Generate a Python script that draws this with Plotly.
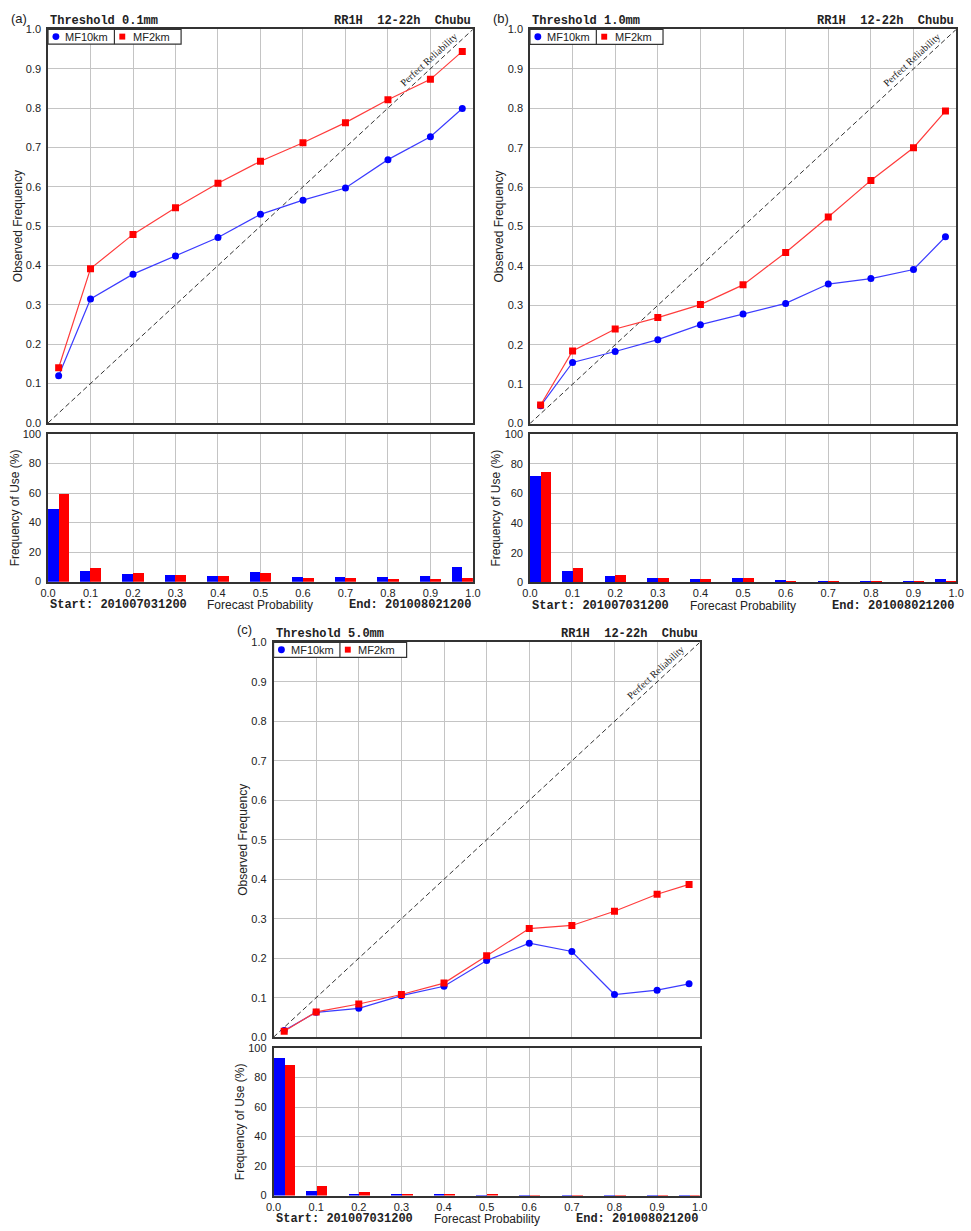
"""
Reliability diagrams (MF10km vs MF2km) for three rain thresholds,
each with a frequency-of-use histogram underneath.
"""

import plotly.graph_objects as go

# ---- data -----------------------------------------------------------------
# forecast probability bins (positions as plotted)
prob = [0.025, 0.1, 0.2, 0.3, 0.4, 0.5, 0.6, 0.7, 0.8, 0.9, 0.975]
perfect = [0.0, 1.0]

thresholds = ["0.1mm", "1.0mm", "5.0mm"]
panel_labels = ["(a)", "(b)", "(c)"]
series_names = ["MF10km", "MF2km"]
x_ticks = [0.0, 0.1, 0.2, 0.3, 0.4, 0.5, 0.6, 0.7, 0.8, 0.9, 1.0]
rel_ticks = [0.0, 0.1, 0.2, 0.3, 0.4, 0.5, 0.6, 0.7, 0.8, 0.9, 1.0]
use_ticks = [0, 20, 40, 60, 80, 100]

# observed frequency
obs_mf10_a = [0.120, 0.315, 0.378, 0.424, 0.471, 0.530, 0.566, 0.597, 0.669, 0.727, 0.799]
obs_mf2_a = [0.140, 0.392, 0.479, 0.547, 0.609, 0.665, 0.712, 0.763, 0.821, 0.873, 0.944]
obs_mf10_b = [0.045, 0.155, 0.183, 0.213, 0.251, 0.278, 0.305, 0.354, 0.368, 0.391, 0.474]
obs_mf2_b = [0.047, 0.184, 0.240, 0.269, 0.302, 0.352, 0.434, 0.524, 0.617, 0.700, 0.793]
obs_mf10_c = [0.017, 0.063, 0.073, 0.105, 0.129, 0.194, 0.238, 0.217, 0.108, 0.119, 0.135]
obs_mf2_c = [0.015, 0.064, 0.084, 0.108, 0.137, 0.206, 0.275, 0.283, 0.319, 0.362, 0.387]

# frequency of use (%)
use_mf10_a = [49.5, 7.3, 5.3, 4.5, 4.0, 6.3, 2.8, 2.8, 3.2, 3.7, 9.8]
use_mf2_a = [59.3, 9.0, 6.0, 4.5, 3.7, 5.6, 2.3, 2.2, 2.0, 2.0, 2.7]
use_mf10_b = [71.5, 7.5, 4.5, 3.2, 2.3, 3.2, 1.2, 1.1, 1.0, 0.9, 2.5]
use_mf2_b = [74.5, 9.3, 5.1, 3.1, 2.2, 2.6, 0.8, 0.6, 0.4, 0.4, 0.4]
use_mf10_c = [93.5, 3.0, 1.3, 0.6, 0.4, 0.3, 0.2, 0.15, 0.1, 0.1, 0.1]
use_mf2_c = [88.5, 6.5, 2.4, 1.2, 0.6, 0.5, 0.3, 0.2, 0.2, 0.15, 0.1]

obs = [(obs_mf10_a, obs_mf2_a), (obs_mf10_b, obs_mf2_b), (obs_mf10_c, obs_mf2_c)]
use = [(use_mf10_a, use_mf2_a), (use_mf10_b, use_mf2_b), (use_mf10_c, use_mf2_c)]

# ---- layout constants -----------------------------------------------------
W, H = 971, 1231
NBSP = "\u00a0"
SANS = "Liberation Sans, Arial, sans-serif"
MONO = "Liberation Mono, Courier New, monospace"
SERIF = "Liberation Serif, Times New Roman, serif"
BLUE = "#0000ff"
RED = "#ff0000"
FRAME = "#333333"
GRID = "#c4c4c4"
TEXT = "#222222"

# panel boxes in pixels: left, right, rel top, rel bottom, hist top, hist bottom
panels = [
    (40.7, 472.7, 23.6, 421.0, 432.3, 581.3),
    (530.7, 964.0, 23.7, 421.7, 432.3, 582.0),
    (270.0, 703.3, 642.7, 1041.3, 1052.3, 1201.3),
]
label_pos = [(1, 13), (491, 13), (231, 630)]


def px_x(v):
    return v / W


def px_y(v):
    return 1 - v / H


fig = go.Figure()
annotations = []
shapes = []

for i, (left, right, r_top, r_bot, h_top, h_bot) in enumerate(panels):
    rel_n, hist_n = 2 * i + 1, 2 * i + 2
    rel_x = "x" if rel_n == 1 else f"x{rel_n}"
    rel_y = "y" if rel_n == 1 else f"y{rel_n}"
    hist_x, hist_y = f"x{hist_n}", f"y{hist_n}"

    # perfect reliability diagonal
    fig.add_trace(go.Scatter(
        x=perfect, y=perfect, mode="lines", xaxis=rel_x, yaxis=rel_y,
        line=dict(color="#333333", width=1, dash="5px,3px"),
        showlegend=False, hoverinfo="skip",
    ))
    # reliability curves
    fig.add_trace(go.Scatter(
        x=prob, y=obs[i][0], mode="lines+markers", name=series_names[0],
        xaxis=rel_x, yaxis=rel_y, showlegend=False,
        line=dict(color="rgb(60,60,255)", width=1.2),
        marker=dict(symbol="circle", size=7, color=BLUE),
    ))
    fig.add_trace(go.Scatter(
        x=prob, y=obs[i][1], mode="lines+markers", name=series_names[1],
        xaxis=rel_x, yaxis=rel_y, showlegend=False,
        line=dict(color="rgb(255,60,60)", width=1.2),
        marker=dict(symbol="square", size=7, color=RED),
    ))
    # frequency of use bars (blue left of bin position, red right)
    fig.add_trace(go.Bar(
        x=prob, y=use[i][0], name=series_names[0], xaxis=hist_x, yaxis=hist_y,
        width=0.025, offset=-0.025, marker=dict(color=BLUE, line=dict(width=0)),
        showlegend=False,
    ))
    fig.add_trace(go.Bar(
        x=prob, y=use[i][1], name=series_names[1], xaxis=hist_x, yaxis=hist_y,
        width=0.025, offset=0.0, marker=dict(color=RED, line=dict(width=0)),
        showlegend=False,
    ))

    xdom = [px_x(left), px_x(right)]
    axis_common = dict(
        range=[0, 1], showgrid=True, gridcolor=GRID, gridwidth=1,
        showline=True, mirror=True, linecolor=FRAME, linewidth=1.5,
        zeroline=False, ticks="", ticklen=0,
        tickfont=dict(family=SANS, size=11, color=TEXT),
        domain=xdom, fixedrange=True,
    )
    fig.layout[f"xaxis{'' if rel_n == 1 else rel_n}"] = dict(
        axis_common, anchor=rel_y, tickvals=x_ticks, showticklabels=False,
    )
    fig.layout[f"yaxis{'' if rel_n == 1 else rel_n}"] = dict(
        axis_common, anchor=rel_x, domain=[px_y(r_bot), px_y(r_top)],
        tickvals=rel_ticks, tickformat=".1f", ticklabelstandoff=3,
        title=dict(text="Observed Frequency", standoff=1,
                   font=dict(family=SANS, size=12, color=TEXT)),
    )
    fig.layout[f"xaxis{hist_n}"] = dict(
        axis_common, anchor=hist_y, tickvals=x_ticks, tickformat=".1f",
        ticklabelstandoff=0,
    )
    fig.layout[f"yaxis{hist_n}"] = dict(
        axis_common, anchor=hist_x, domain=[px_y(h_bot), px_y(h_top)],
        range=[0, 100], tickvals=use_ticks, ticklabelstandoff=3,
        title=dict(text="Frequency of Use (%)", standoff=1,
                   font=dict(family=SANS, size=12, color=TEXT)),
    )

    mid = (left + right) / 2
    foot_y = px_y(h_bot + 23.7)
    # panel letter
    annotations.append(dict(
        x=px_x(label_pos[i][0]), y=px_y(label_pos[i][1]), xref="paper", yref="paper",
        xanchor="left", yanchor="middle", showarrow=False, text=panel_labels[i],
        font=dict(family=SANS, size=13, color=TEXT),
    ))
    # header texts
    annotations.append(dict(
        x=px_x(left), y=px_y(r_top - 8.7), xref="paper", yref="paper",
        xanchor="left", yanchor="middle", showarrow=False,
        text=f"<b>Threshold {thresholds[i]}</b>",
        font=dict(family=MONO, size=12, color=TEXT),
    ))
    annotations.append(dict(
        x=px_x(right), y=px_y(r_top - 8.7), xref="paper", yref="paper",
        xanchor="right", yanchor="middle", showarrow=False,
        text=f"<b>RR1H{NBSP * 2}12-22h{NBSP * 2}Chubu</b>",
        font=dict(family=MONO, size=12, color=TEXT),
    ))
    # footer texts
    annotations.append(dict(
        x=px_x(left), y=foot_y, xref="paper", yref="paper",
        xanchor="left", yanchor="middle", showarrow=False,
        text="<b>Start: 201007031200</b>",
        font=dict(family=MONO, size=12, color=TEXT),
    ))
    annotations.append(dict(
        x=px_x(mid), y=foot_y, xref="paper", yref="paper",
        xanchor="center", yanchor="middle", showarrow=False,
        text="Forecast Probability",
        font=dict(family=SANS, size=12, color=TEXT),
    ))
    annotations.append(dict(
        x=px_x(right), y=foot_y, xref="paper", yref="paper",
        xanchor="right", yanchor="middle", showarrow=False,
        text="<b>End: 201008021200</b>",
        font=dict(family=MONO, size=12, color=TEXT),
    ))
    # perfect reliability label along the diagonal
    annotations.append(dict(
        x=0.896, y=0.924, xref=f"{rel_x} domain", yref=f"{rel_y} domain",
        xanchor="center", yanchor="middle", showarrow=False,
        text="Perfect Reliability", textangle=-42.6,
        font=dict(family=SERIF, size=10, color=TEXT),
    ))

    # legend box drawn inside the top-left corner
    pw, ph = right - left, r_bot - r_top
    box_h = 15 / ph
    shapes.append(dict(
        type="rect", xref=f"{rel_x} domain", yref=f"{rel_y} domain",
        x0=0, x1=135.3 / pw, y0=1 - box_h, y1=1,
        fillcolor="white", line=dict(color=FRAME, width=1.2), layer="above",
    ))
    shapes.append(dict(
        type="line", xref=f"{rel_x} domain", yref=f"{rel_y} domain",
        x0=67.5 / pw, x1=67.5 / pw, y0=1 - box_h, y1=1,
        line=dict(color=FRAME, width=1.2), layer="above",
    ))
    cy = 1 - 7.3 / ph
    shapes.append(dict(
        type="circle", xref=f"{rel_x} domain", yref=f"{rel_y} domain",
        x0=4.5 / pw, x1=11.5 / pw, y0=cy - 3.5 / ph, y1=cy + 3.5 / ph,
        fillcolor=BLUE, line=dict(width=0), layer="above",
    ))
    shapes.append(dict(
        type="rect", xref=f"{rel_x} domain", yref=f"{rel_y} domain",
        x0=72.5 / pw, x1=78.5 / pw, y0=cy - 3 / ph, y1=cy + 3 / ph,
        fillcolor=RED, line=dict(width=0), layer="above",
    ))
    annotations.append(dict(
        x=15.5 / pw, y=cy, xref=f"{rel_x} domain", yref=f"{rel_y} domain",
        xanchor="left", yanchor="middle", showarrow=False, text=series_names[0],
        font=dict(family=SANS, size=11, color=TEXT),
    ))
    annotations.append(dict(
        x=84 / pw, y=cy, xref=f"{rel_x} domain", yref=f"{rel_y} domain",
        xanchor="left", yanchor="middle", showarrow=False, text=series_names[1],
        font=dict(family=SANS, size=11, color=TEXT),
    ))

fig.update_layout(
    width=W, height=H, autosize=False,
    margin=dict(l=0, r=0, t=0, b=0),
    paper_bgcolor="white", plot_bgcolor="white",
    barmode="overlay", bargap=0,
    font=dict(family=SANS, size=11, color=TEXT),
    annotations=annotations, shapes=shapes,
    showlegend=False,
)

fig.write_html(
    "out.html",
    config={"displayModeBar": False},
    post_script="document.body.style.margin='0';",
)
